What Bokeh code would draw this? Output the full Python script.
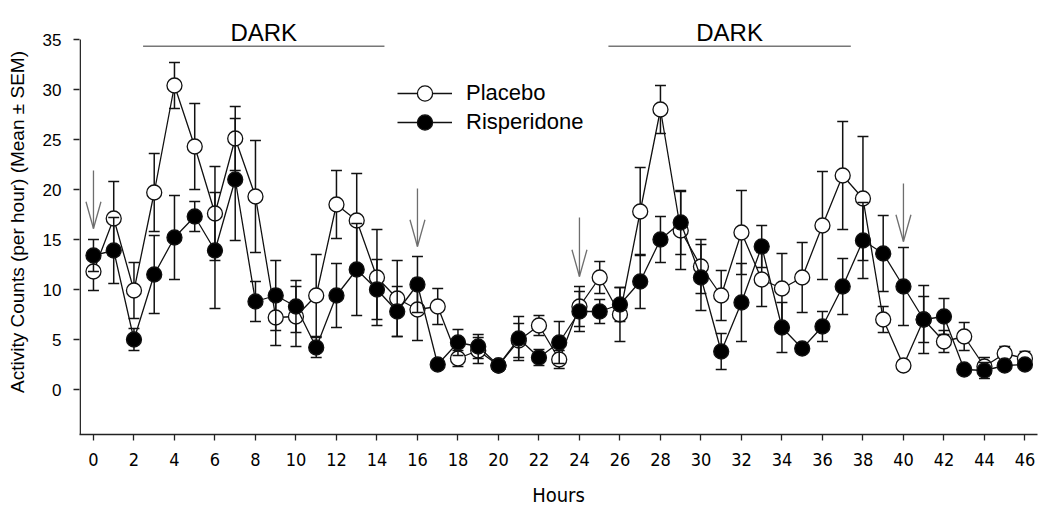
from bokeh.plotting import figure
from bokeh.models import Range1d, FixedTicker, Legend, LegendItem, Label, ColumnDataSource
from bokeh.embed import file_html
from bokeh.resources import INLINE

hours = list(range(0, 47))
placebo = [11.8, 17.1, 9.9, 19.7, 30.4, 24.3, 17.6, 25.1, 19.3, 7.2, 7.3, 9.4, 18.5, 16.9, 11.2, 9.1,
           8.0, 8.3, 3.1, 3.9, 2.4, 4.9, 6.4, 3.0, 8.3, 11.2, 7.5, 17.8, 28.0, 15.9, 12.3, 9.4,
           15.7, 11.0, 10.1, 11.2, 16.4, 21.4, 19.1, 7.0, 2.4, 7.0, 4.8, 5.3, 2.3, 3.6, 3.1]
placebo_sem = [1.9, 3.7, 2.8, 3.9, 2.3, 4.3, 4.7, 3.2, 5.6, 2.8, 3.0, 4.1, 3.4, 4.7, 4.8, 3.8,
               3.1, 1.8, 0.8, 1.3, 0.5, 1.7, 1.0, 0.9, 2.0, 1.6, 2.7, 4.4, 2.4, 3.9, 2.7, 2.5,
               4.2, 2.7, 3.5, 3.5, 5.4, 5.4, 6.2, 1.3, 0.5, 2.3, 1.1, 1.4, 0.9, 0.7, 0.7]
risperidone = [13.4, 13.9, 5.0, 11.5, 15.2, 17.3, 13.9, 21.0, 8.8, 9.4, 8.3, 4.2, 9.4, 12.0, 10.0, 7.8,
               10.5, 2.5, 4.7, 4.3, 2.4, 5.1, 3.2, 4.7, 7.8, 7.8, 8.5, 10.8, 15.0, 16.7, 11.2, 3.8,
               8.7, 14.3, 6.2, 4.1, 6.3, 10.3, 14.9, 13.6, 10.3, 7.0, 7.3, 2.0, 1.9, 2.4, 2.5]
risperidone_sem = [1.6, 3.3, 1.1, 3.9, 4.2, 1.5, 5.8, 6.1, 2.0, 3.5, 2.6, 1.0, 3.2, 4.6, 3.0, 2.5,
                   2.8, 0.4, 1.3, 1.2, 0.5, 2.2, 0.8, 2.1, 2.0, 1.2, 1.7, 2.7, 2.3, 3.2, 3.3, 1.8,
                   3.9, 2.1, 2.5, 0.4, 1.5, 2.8, 3.8, 3.8, 3.9, 3.4, 1.8, 0.4, 0.8, 0.4, 0.4]

x_ticks = list(range(0, 47, 2))
y_ticks = [0, 5, 10, 15, 20, 25, 30, 35]
y_axis_top = 35

dark_labels = ["DARK", "DARK"]
dark_start = [2.45, 25.43]
dark_end = [14.37, 37.4]
dark_line_y = 34.33
dark_text_y = 34.38

arrow_x = [0, 16, 24, 40]
arrow_top = [21.9, 20.1, 17.2, 20.6]
arrow_tip = [16.1, 14.3, 11.3, 14.8]
head_half_w = 0.37
head_len = 2.67

cap_half = 0.27

X0, X1 = -0.69, 46.62
Y0, Y1 = -4.5, 38.0

p = figure(width=1050, height=514, x_range=Range1d(X0, X1), y_range=Range1d(Y0, Y1),
           output_backend="svg", toolbar_location=None,
           min_border_left=79, min_border_right=13, min_border_top=9, min_border_bottom=80)
p.outline_line_color = None
p.xgrid.visible = False
p.ygrid.visible = False
p.background_fill_color = "white"

for ax in (p.xaxis[0], p.yaxis[0]):
    ax.axis_line_width = 1.5
    ax.axis_line_color = "#222222"
    ax.major_tick_line_color = "#222222"
    ax.major_tick_line_width = 1.3
    ax.major_tick_in = 0
    ax.major_tick_out = 6
    ax.minor_tick_line_color = None
    ax.major_label_text_color = "black"
    ax.axis_label_text_color = "black"
    ax.axis_label_text_font_style = "normal"

p.yaxis.axis_line_color = None

p.xaxis.ticker = FixedTicker(ticks=x_ticks)
p.xaxis.major_label_text_font = "DejaVu Sans Condensed"
p.xaxis.major_label_text_font_size = "18px"
p.xaxis.major_label_standoff = 12
p.xaxis.axis_label = "Hours"
p.xaxis.axis_label_text_font = "DejaVu Sans Condensed"
p.xaxis.axis_label_text_font_size = "20px"
p.xaxis.axis_label_standoff = 14

p.yaxis.ticker = FixedTicker(ticks=y_ticks)
p.yaxis.major_label_text_font = "Liberation Sans"
p.yaxis.major_label_text_font_size = "17px"
p.yaxis.major_label_standoff = 12
p.yaxis.axis_label = "Activity Counts (per hour) (Mean \u00b1 SEM)"
p.yaxis.axis_label_text_font = "Liberation Sans"
p.yaxis.axis_label_text_font_size = "19px"
p.yaxis.axis_label_standoff = 12

# y axis line drawn only up to 35 (the frame extends higher to hold the DARK labels)
p.segment(x0=[X0 + 0.035], y0=[Y0], x1=[X0 + 0.035], y1=[y_axis_top],
          line_color="#222222", line_width=1.5)


def series(vals, sems, fill):
    lo = [v - s for v, s in zip(vals, sems)]
    hi = [v + s for v, s in zip(vals, sems)]
    src = ColumnDataSource(dict(x=hours, y=vals, lo=lo, hi=hi,
                                xl=[h - cap_half for h in hours], xr=[h + cap_half for h in hours]))
    p.segment(x0="x", y0="lo", x1="x", y1="hi", source=src, line_color="#111111", line_width=1.5)
    p.segment(x0="xl", y0="hi", x1="xr", y1="hi", source=src, line_color="#111111", line_width=1.5)
    p.segment(x0="xl", y0="lo", x1="xr", y1="lo", source=src, line_color="#111111", line_width=1.5)
    ln = p.line("x", "y", source=src, line_color="#111111", line_width=1.3)
    sc = p.scatter("x", "y", source=src, size=15, fill_color=fill, line_color="#111111", line_width=1.3)
    return ln, sc


pl_line, pl_sc = series(placebo, placebo_sem, "white")
ri_line, ri_sc = series(risperidone, risperidone_sem, "black")

# arrows
p.segment(x0=arrow_x, y0=arrow_top, x1=arrow_x, y1=arrow_tip, line_color="#6e6e6e", line_width=1.3)
p.segment(x0=[a - head_half_w for a in arrow_x], y0=[t + head_len for t in arrow_tip],
          x1=arrow_x, y1=arrow_tip, line_color="#6e6e6e", line_width=1.3)
p.segment(x0=[a + head_half_w for a in arrow_x], y0=[t + head_len for t in arrow_tip],
          x1=arrow_x, y1=arrow_tip, line_color="#6e6e6e", line_width=1.3)

# dark periods
p.segment(x0=dark_start, y0=[dark_line_y] * 2, x1=dark_end, y1=[dark_line_y] * 2,
          line_color="#777777", line_width=1.6)
for s, e, t in zip(dark_start, dark_end, dark_labels):
    p.add_layout(Label(x=(s + e) / 2, y=dark_text_y, text=t, text_align="center",
                       text_baseline="bottom", text_font="Liberation Sans",
                       text_font_size="24px", text_color="black"))


def make_legend(label, rends, loc):
    return Legend(items=[LegendItem(label=label, renderers=rends)],
                  location=loc, glyph_width=55, glyph_height=38, label_height=38,
                  spacing=0, padding=0, margin=0, label_standoff=14,
                  border_line_color=None, background_fill_alpha=0,
                  label_text_font="Liberation Sans", label_text_font_size="22px",
                  label_text_color="black")


p.add_layout(make_legend("Placebo", [pl_line, pl_sc], (318, 322)))
p.add_layout(make_legend("Risperidone", [ri_line, ri_sc], (318, 293)))

open("out.html", "w").write(file_html(p, INLINE))
